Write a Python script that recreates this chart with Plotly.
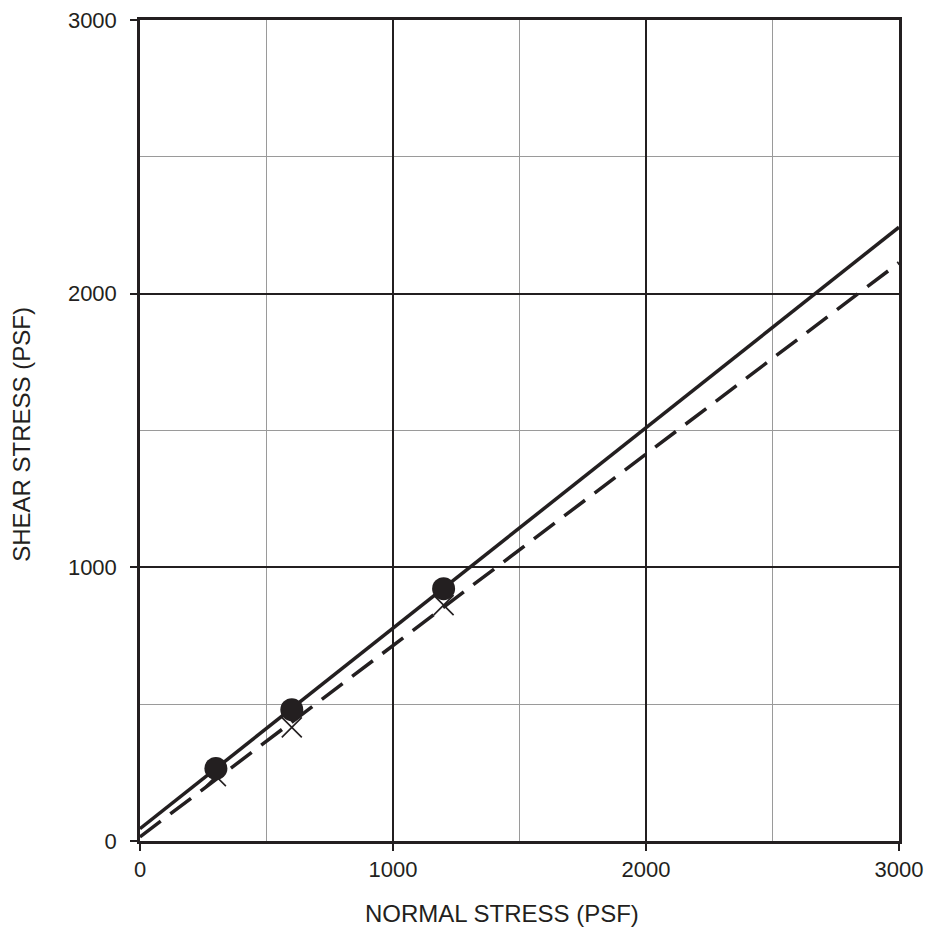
import plotly.graph_objects as go

# Data
normal_stress = [300, 600, 1200]
peak_shear = [265, 480, 922]
residual_shear = [237, 415, 862]
fit_x = [0, 3000]
peak_fit = [45, 2243]
residual_fit = [15, 2113]

x_ticks = [0, 1000, 2000, 3000]
y_ticks = [0, 1000, 2000, 3000]
x_title = "NORMAL STRESS (PSF)"
y_title = "SHEAR STRESS (PSF)"

FONT = "Liberation Sans, Arial, sans-serif"
INK = "#231f20"

fig = go.Figure()

fig.add_trace(go.Scatter(x=fit_x, y=residual_fit, mode="lines",
                         line=dict(color=INK, width=3.5, dash="26px,12px"),
                         showlegend=False))
fig.add_trace(go.Scatter(x=fit_x, y=peak_fit, mode="lines",
                         line=dict(color=INK, width=3.5),
                         showlegend=False))
fig.add_trace(go.Scatter(x=normal_stress, y=residual_shear, mode="markers",
                         marker=dict(symbol="x-thin", size=20,
                                     line=dict(color=INK, width=1.6)),
                         showlegend=False))
fig.add_trace(go.Scatter(x=normal_stress, y=peak_shear, mode="markers",
                         marker=dict(symbol="circle", size=23, color=INK),
                         showlegend=False))

axis_common = dict(
    showgrid=True, gridcolor=INK, gridwidth=2,
    showline=True, linecolor=INK, linewidth=2.5, mirror=True,
    ticks="outside", ticklen=7, tickcolor=INK, tickwidth=2,
    zeroline=False,
    minor=dict(dtick=500, showgrid=True, gridcolor="#9a9a9a", gridwidth=1, ticks=""),
    tickfont=dict(family=FONT, size=22, color=INK),
)

fig.update_xaxes(range=[0, 3000], tickvals=x_ticks, ticktext=[str(v) for v in x_ticks],
                 **axis_common)
fig.update_yaxes(range=[0, 3000], tickvals=y_ticks, ticktext=[str(v) for v in y_ticks],
                 ticklabelstandoff=9, **axis_common)

fig.add_annotation(text=x_title, xref="paper", yref="paper", x=0.477, y=-0.0877,
                   xanchor="center", yanchor="middle", showarrow=False,
                   font=dict(family=FONT, size=24, color=INK))
fig.add_annotation(text=y_title, xref="paper", yref="paper", x=-0.1555, y=0.496,
                   xanchor="center", yanchor="middle", textangle=-90, showarrow=False,
                   font=dict(family=FONT, size=24, color=INK))

fig.update_layout(
    width=928, height=932,
    margin=dict(l=140, r=29, t=20, b=91, autoexpand=False),
    plot_bgcolor="white", paper_bgcolor="white",
    showlegend=False,
)

fig.write_html("out.html", config={"displayModeBar": False},
               post_script="document.body.style.margin='0';document.body.style.padding='0';")
